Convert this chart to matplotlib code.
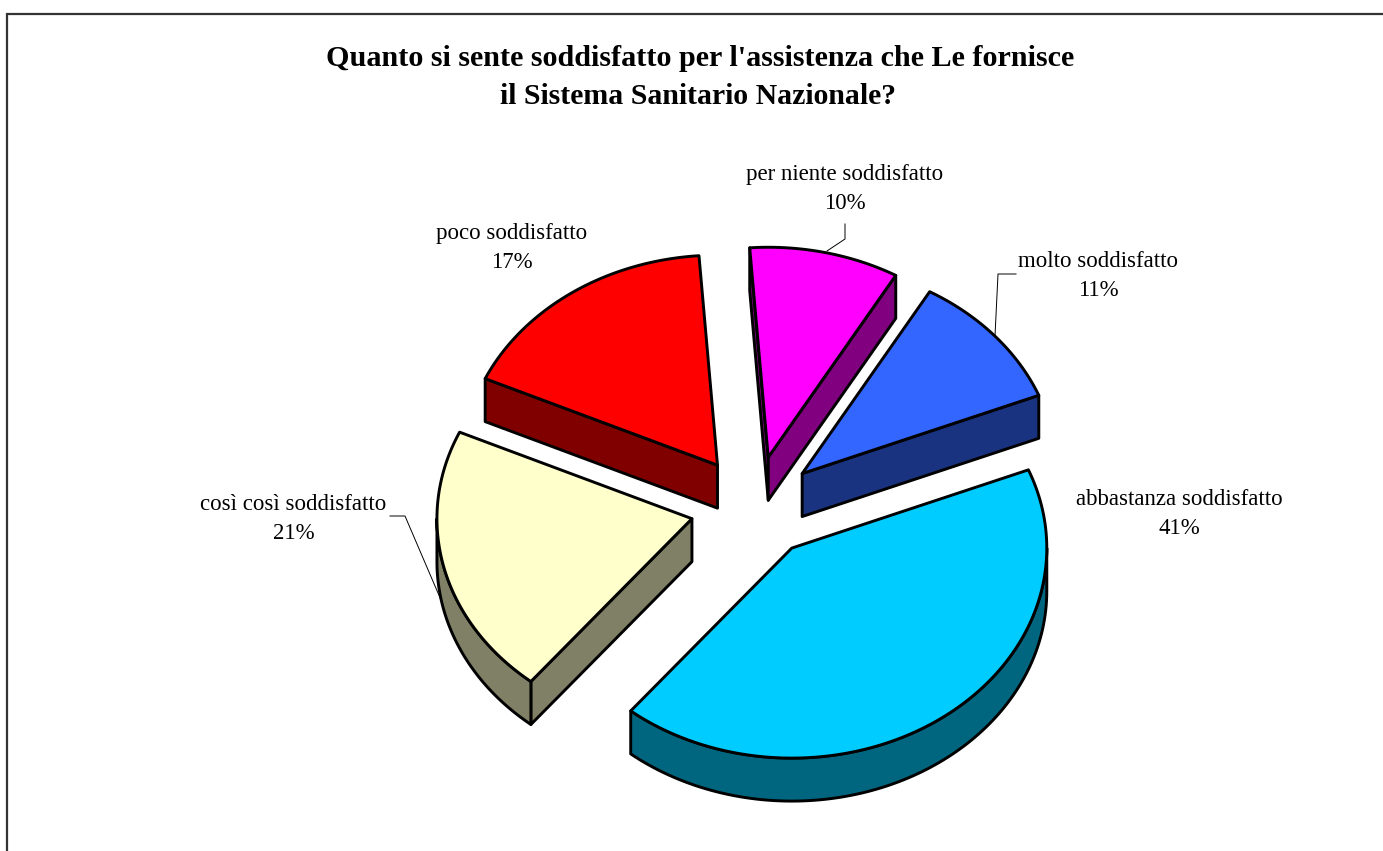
import numpy as np
import matplotlib
matplotlib.use('Agg')
import matplotlib.pyplot as plt
from matplotlib.patches import Polygon

plt.rcParams['font.family'] = ['Liberation Serif', 'DejaVu Serif']

# data, clockwise from the first slice
categories = ['molto soddisfatto', 'abbastanza soddisfatto', 'così così soddisfatto',
              'poco soddisfatto', 'per niente soddisfatto']
percent_labels = [11, 41, 21, 17, 10]
# slice sizes as measured on the picture, labels above are rounded
values = [10.6, 42.0, 20.9, 17.1, 9.5]
top_colors = ['#3366FF', '#00CCFF', '#FFFFCC', '#FF0000', '#FF00FF']
side_colors = ['#1A3380', '#006680', '#808066', '#800000', '#800080']
title_lines = ["Quanto si sente soddisfatto per l'assistenza che Le fornisce",
               'il Sistema Sanitario Nazionale?']

# pixel layout of the pie
W, H = 1383, 851
CX, CY = 754, 507
RX, RY = 255, 210
DEPTH = 43
EXPLODE_X, EXPLODE_Y = 0.25, 0.243
START = 30
LW = 2.1

label_pos = [(1098.5, 276), (1179.5, 514), (293.5, 519), (512, 248), (845, 189)]
leaders = [[(1016, 274), (998, 274), (995, 336)],
           None,
           [(390, 516), (405, 516), (441, 600)],
           None,
           [(845, 224), (845, 239), (827, 251)]]


def project(theta, ox, oy):
    t = np.radians(theta)
    return ox + RX * np.sin(t), oy - RY * np.cos(t)


def extrude(xs, ys):
    xs, ys = np.asarray(xs), np.asarray(ys)
    return np.r_[np.c_[xs, ys], np.c_[xs[::-1], ys[::-1] + DEPTH]]


fig = plt.figure(figsize=(W / 100, H / 100), dpi=100)
ax = fig.add_axes([0, 0, 1, 1])
ax.set_xlim(0, W)
ax.set_ylim(H, 0)
ax.axis('off')

# chart frame, runs off the right and bottom of the picture
ax.plot([7, 7, W + 5], [H + 5, 14, 14], color='#333333', lw=1.6, solid_joinstyle='miter', clip_on=False)

total = sum(values)
angle = START
for name, val, pct, top, side, pos, lead in zip(categories, values, percent_labels, top_colors,
                                                side_colors, label_pos, leaders):
    a0 = angle
    a1 = angle + 360 * val / total
    angle = a1
    mid = np.radians((a0 + a1) / 2)
    ox = CX + EXPLODE_X * RX * np.sin(mid)
    oy = CY - EXPLODE_Y * RY * np.cos(mid)
    style = dict(ec='black', lw=LW, joinstyle='round')

    # radial cut faces that look towards the viewer
    for edge, show in ((a0, np.sin(np.radians(a0)) < 0), (a1, np.sin(np.radians(a1)) > 0)):
        if show:
            ex, ey = project(edge, ox, oy)
            ax.add_patch(Polygon(extrude([ox, ex], [oy, ey]), fc=side, **style))

    # outer rim, front half only
    lo, hi = max(a0, 90), min(a1, 270)
    if lo < hi:
        rx, ry = project(np.linspace(lo, hi, 100), ox, oy)
        ax.add_patch(Polygon(extrude(rx, ry), fc=side, **style))

    # top of the slice
    tx, ty = project(np.linspace(a0, a1, 120), ox, oy)
    ax.add_patch(Polygon(np.r_[[[ox, oy]], np.c_[tx, ty]], fc=top, **style))

    ax.text(pos[0], pos[1], '%s\n%d%%' % (name, pct), ha='center', va='center',
            fontsize=16.5, linespacing=1.45, color='black')
    if lead:
        ax.plot(*zip(*lead), color='black', lw=0.7)

ax.text(700.5, 59, title_lines[0], ha='center', va='center', fontsize=21.7, fontweight='bold')
ax.text(698, 97, title_lines[1], ha='center', va='center', fontsize=21.4, fontweight='bold')

fig.savefig('out.png', dpi=100, facecolor='white')
